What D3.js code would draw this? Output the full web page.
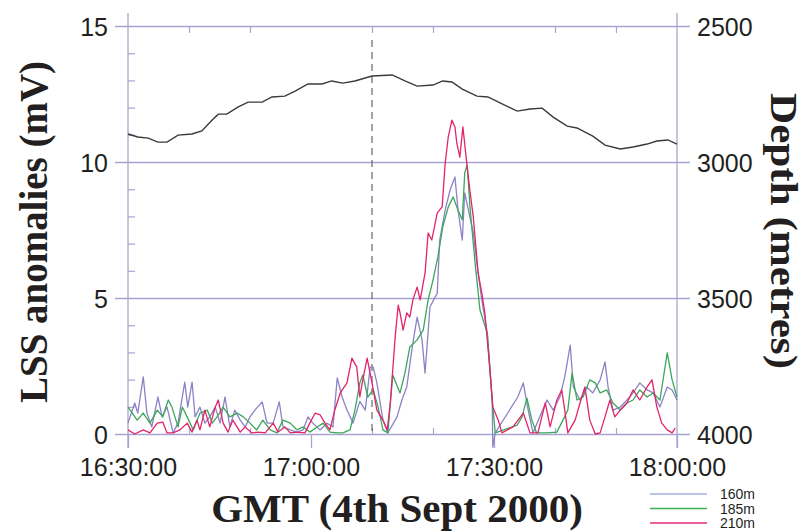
<!DOCTYPE html>
<html>
<head>
<meta charset="utf-8">
<script src="https://cdn.jsdelivr.net/npm/d3@7"></script>
<style>
body { margin: 0; background: #fff; }
svg { display: block; }
.tick-label text { font-family: "Liberation Sans", Arial, sans-serif; font-size: 25px; fill: #231f20; }
.title { font-family: "Liberation Serif", "Times New Roman", serif; font-weight: bold; fill: #231f20; }
.legend-label { font-family: "Liberation Sans", Arial, sans-serif; font-size: 14px; fill: #231f20; }
</style>
</head>
<body>
<div id="chart"></div>
<script>
// sample times are minutes after 16:30:00 GMT, LSS values in mV
const t160 = [0.0,1.1,1.6,2.5,3.1,3.9,4.9,5.6,6.4,7.4,8.2,9.3,9.8,10.5,11.0,11.8,12.6,13.4,14.3,15.1,15.9,16.7,17.5,18.4,19.2,20.0,20.8,22.0,22.8,23.8,24.8,25.4,26.6,27.7,28.7,29.5,30.3,31.5,32.6,33.6,34.3,35.1,35.9,36.9,38.0,38.9,39.7,40.2,40.8,41.8,42.6,44.1,44.9,45.7,46.6,47.4,48.2,48.7,49.5,50.7,51.1,52.0,52.8,53.6,54.1,54.8,55.2,55.7,56.6,57.4,58.0,58.9,59.7,59.8,60.2,63.9,64.8,65.6,66.4,67.5,68.7,69.7,70.8,71.6,72.5,73.0,74.1,75.2,76.2,77.4,78.2,78.7,79.5,80.7,81.8,82.8,83.9,85.1,86.1,87.2,88.4,89.2,90.0];
const v160 = [0.40,1.14,0.77,2.10,0.77,0.26,1.36,0.63,0.99,0.04,0.40,1.91,0.99,1.91,0.63,0.99,0.40,0.63,0.99,0.40,1.36,0.26,0.88,0.51,0.26,0.63,0.88,1.18,0.40,0.40,1.18,0.26,0.15,0.07,0.15,0.63,0.40,0.15,0.40,0.26,2.06,1.36,0.88,0.40,1.20,0.88,2.46,2.46,1.88,0.51,0.04,0.63,1.25,1.73,3.20,4.30,3.46,2.24,4.67,5.18,7.13,8.24,8.97,9.45,8.24,7.13,8.86,8.35,7.39,5.92,4.93,3.71,1.25,-0.48,0.04,1.36,1.88,0.88,0.04,0.63,1.25,0.88,1.36,2.10,3.27,1.73,1.25,1.73,1.51,1.99,2.65,1.73,0.88,0.99,1.25,1.51,1.88,1.62,1.51,0.99,1.73,1.62,1.25];

const t185 = [0.0,1.5,2.5,3.6,4.8,5.7,6.6,7.2,8.2,8.9,9.7,10.7,11.8,13.0,13.8,14.6,15.6,16.7,17.9,18.9,20.0,21.1,22.1,23.3,24.4,25.4,26.6,27.7,28.7,29.8,31.0,32.0,33.1,34.3,35.2,36.4,37.2,38.0,38.5,39.3,40.2,41.0,41.8,42.6,43.4,44.6,45.4,46.2,47.4,48.4,49.2,50.0,50.8,51.6,52.5,53.3,53.9,54.8,55.2,55.6,56.1,56.9,57.7,58.9,59.7,60.2,63.8,64.6,65.4,66.2,67.0,68.7,70.3,71.3,72.1,72.8,73.6,74.6,75.7,76.6,77.4,78.5,79.5,80.7,81.8,82.8,83.9,85.1,86.1,87.2,88.4,89.2,90.0];
const v185 = [0.99,0.51,0.77,0.40,0.88,0.63,1.25,0.99,0.26,0.99,0.63,0.15,0.77,0.88,0.40,0.63,0.99,0.63,0.77,0.63,0.40,0.15,0.51,0.15,0.04,0.51,0.40,0.15,0.26,0.07,0.26,0.40,0.07,0.04,0.04,0.15,0.88,1.88,2.17,1.36,1.62,0.99,0.15,0.04,2.17,1.51,2.24,3.20,3.46,3.82,4.93,5.66,6.51,7.61,8.35,8.71,8.35,7.87,9.60,9.89,8.24,6.29,4.56,3.71,1.25,0.04,0.33,0.63,1.32,0.51,0.04,0.04,0.07,0.51,0.88,2.24,1.25,1.36,1.99,1.88,1.51,1.62,1.14,0.88,1.14,1.25,1.62,1.36,1.51,1.25,2.98,1.99,1.36];

const t210 = [0.0,1.1,2.5,3.6,4.8,5.7,6.4,7.4,8.5,9.7,10.5,11.3,11.8,12.6,13.4,14.3,14.8,15.6,16.4,17.2,18.4,19.2,20.3,21.3,22.5,23.8,24.6,25.7,26.6,27.7,29.0,29.8,30.7,31.5,32.3,33.1,33.9,34.8,35.9,36.7,37.5,38.0,38.4,39.2,40.0,40.8,41.8,42.5,43.0,43.8,44.3,44.6,45.1,45.7,46.2,46.7,47.4,47.9,48.7,49.2,49.8,50.7,51.5,52.0,52.5,53.1,53.6,53.9,54.4,54.9,55.6,56.1,56.6,57.4,58.0,58.5,59.3,59.8,60.7,61.3,63.1,64.8,65.9,67.2,68.4,69.2,70.3,71.1,71.6,72.1,73.3,74.1,74.9,75.7,76.6,77.4,78.2,79.0,79.8,80.7,81.8,82.8,83.9,85.1,85.9,86.7,87.5,88.4,89.2,89.7];
const v210 = [0.15,0.00,0.15,0.04,0.40,0.44,0.04,0.04,0.15,0.40,0.07,0.51,0.15,0.88,0.26,0.99,1.25,0.40,0.07,0.51,0.07,0.26,0.04,0.07,0.04,0.40,0.07,0.26,0.04,0.07,0.04,0.40,0.77,0.70,0.40,0.15,0.88,1.51,1.88,2.79,2.46,1.36,1.88,2.79,1.88,0.88,0.51,0.15,1.14,3.57,4.74,4.45,3.82,4.45,4.30,4.93,5.40,4.93,5.92,7.39,7.13,8.13,8.35,9.96,10.92,11.54,11.29,10.70,10.18,11.29,9.82,8.86,7.98,5.92,5.18,4.45,2.46,0.99,0.51,0.04,0.26,0.77,0.04,0.04,1.14,0.26,1.25,1.62,0.88,0.04,0.51,1.14,1.73,0.51,0.00,0.04,0.63,1.25,0.63,0.88,1.14,1.62,1.25,1.73,1.99,0.99,0.40,0.15,0.04,0.22];

// depth of the instrument (metres)
const depthTime = [0.0,1.6,3.3,4.9,6.4,8.2,10.5,12.1,13.8,14.8,16.2,18.0,19.7,22.0,23.6,25.7,27.4,29.5,31.8,33.4,35.2,37.2,40.0,43.3,45.4,47.4,50.0,51.6,53.1,54.8,57.2,59.0,61.0,63.8,65.9,67.9,69.7,72.0,73.6,76.2,78.2,80.7,82.8,85.1,86.7,88.5,90.0];
const depthValues = [2897,2908,2912,2927,2927,2901,2897,2886,2846,2824,2824,2798,2780,2780,2761,2758,2739,2713,2713,2702,2710,2702,2684,2680,2702,2721,2717,2702,2706,2732,2758,2761,2783,2813,2805,2802,2835,2868,2875,2905,2938,2952,2945,2934,2923,2919,2934];

const lssTicks = [0, 5, 10, 15];
const lssMinorTicks = [1, 2, 3, 4, 6, 7, 8, 9, 11, 12, 13, 14];
const depthTicks = [4000, 3500, 3000, 2500];
const timeTicks = ['16:30:00', '17:00:00', '17:30:00', '18:00:00'];
const timeMinorTicks = ['16:40:00', '16:50:00', '17:10:00', '17:20:00', '17:40:00', '17:50:00'];
const markerTime = '17:10:00';
const seriesNames = ['160m', '185m', '210m'];

const seriesColors = ['#8c82c6', '#3aa75a', '#e2246c'];
const legendColors = ['#9fb1de', '#3fb04f', '#e52a7c'];
const axisColor = '#a9a4d0';

const width = 806, height = 531;
const margin = {top: 26, right: 129, bottom: 97, left: 128};

const parseTime = d3.utcParse('%H:%M:%S');
const startTime = parseTime(timeTicks[0]);
const toDate = m => new Date(startTime.getTime() + m * 60000);

const svg = d3.select('#chart').append('svg')
	.attr('width', width)
	.attr('height', height);

const x = d3.scaleTime()
	.domain([parseTime(timeTicks[0]), parseTime(timeTicks[timeTicks.length - 1])])
	.range([margin.left, width - margin.right]);
const y = d3.scaleLinear()
	.domain([0, 15])
	.range([height - margin.bottom, margin.top]);
const yDepth = d3.scaleLinear()
	.domain([4000, 2500])
	.range([height - margin.bottom, margin.top]);

const x0 = x.range()[0], x1 = x.range()[1];
const yBottom = y(0), yTop = y(15);

// horizontal grid lines (reach past both axes)
const grid = svg.append('g')
	.attr('transform', `translate(${x0 - 13},0)`)
	.call(d3.axisRight(y).tickValues(lssTicks).tickSize(x1 - x0 + 26).tickFormat(''));
grid.select('.domain').remove();
grid.selectAll('line').attr('stroke', axisColor).attr('stroke-width', 1.3);

// vertical axis lines
[x0, x1].forEach(xp => {
	svg.append('line')
		.attr('x1', xp).attr('x2', xp)
		.attr('y1', yTop - 13).attr('y2', yBottom + 14)
		.attr('stroke', axisColor).attr('stroke-width', 1.3);
});

// left minor ticks, pointing in
const leftMinor = svg.append('g')
	.attr('transform', `translate(${x0},0)`)
	.call(d3.axisLeft(y).tickValues(lssMinorTicks).tickSize(-7).tickFormat(''));
leftMinor.select('.domain').remove();
leftMinor.selectAll('line').attr('stroke', axisColor).attr('stroke-width', 1.2);

// left labels
const leftLabels = svg.append('g')
	.attr('class', 'tick-label')
	.attr('transform', `translate(${x0},0)`)
	.call(d3.axisLeft(y).tickValues(lssTicks).tickSize(0).tickPadding(20));
leftLabels.select('.domain').remove();
leftLabels.selectAll('text').attr('font-size', null).attr('font-family', null).attr('dy', '0.36em');

// right labels (depth)
const rightLabels = svg.append('g')
	.attr('class', 'tick-label')
	.attr('transform', `translate(${x1},0)`)
	.call(d3.axisRight(yDepth).tickValues(depthTicks).tickSize(0).tickPadding(20).tickFormat(d3.format('d')));
rightLabels.select('.domain').remove();
rightLabels.selectAll('text').attr('font-size', null).attr('font-family', null).attr('dy', '0.36em');

// bottom axis
const bottomAxis = svg.append('g')
	.attr('class', 'tick-label')
	.attr('transform', `translate(0,${yBottom})`)
	.call(d3.axisBottom(x).tickValues(timeTicks.map(parseTime)).tickSize(14).tickPadding(10).tickFormat(d3.utcFormat('%H:%M:%S')));
bottomAxis.select('.domain').remove();
bottomAxis.selectAll('line').attr('stroke', axisColor).attr('stroke-width', 1.3);
bottomAxis.selectAll('text').attr('font-size', null).attr('font-family', null);

// minor time ticks, top and bottom, pointing in
const topMinor = svg.append('g')
	.attr('transform', `translate(0,${yTop})`)
	.call(d3.axisTop(x).tickValues(timeMinorTicks.map(parseTime)).tickSize(-7).tickFormat(''));
topMinor.select('.domain').remove();
topMinor.selectAll('line').attr('stroke', axisColor).attr('stroke-width', 1.2);

const bottomMinor = svg.append('g')
	.attr('transform', `translate(0,${yBottom})`)
	.call(d3.axisBottom(x).tickValues(timeMinorTicks.map(parseTime)).tickSize(-6).tickFormat(''));
bottomMinor.select('.domain').remove();
bottomMinor.selectAll('line').attr('stroke', axisColor).attr('stroke-width', 1.2);

// dashed marker
svg.append('line')
	.attr('x1', x(parseTime(markerTime))).attr('x2', x(parseTime(markerTime)))
	.attr('y1', yTop + 14).attr('y2', yBottom)
	.attr('stroke', '#5a5a5a')
	.attr('stroke-width', 1.1)
	.attr('stroke-dasharray', '7,5');

// depth line
const depthLine = d3.line()
	.x((d, i) => x(toDate(depthTime[i])))
	.y(d => yDepth(d));
svg.append('path')
	.datum(depthValues)
	.attr('d', depthLine)
	.attr('fill', 'none')
	.attr('stroke', '#3a3a3a')
	.attr('stroke-width', 1.4);

// LSS series
const series = [
	{times: t160, values: v160},
	{times: t185, values: v185},
	{times: t210, values: v210}
];
series.forEach((s, k) => {
	const line = d3.line()
		.x((d, i) => x(toDate(s.times[i])))
		.y(d => y(d));
	svg.append('path')
		.datum(s.values)
		.attr('d', line)
		.attr('fill', 'none')
		.attr('stroke', seriesColors[k])
		.attr('stroke-width', 1.3)
		.attr('stroke-linejoin', 'round');
});

// titles
svg.append('text')
	.attr('class', 'title')
	.attr('transform', 'translate(47,232) rotate(-90)')
	.attr('text-anchor', 'middle')
	.attr('font-size', 39)
	.attr('textLength', 342)
	.attr('lengthAdjust', 'spacingAndGlyphs')
	.text('LSS anomalies (mV)');

svg.append('text')
	.attr('class', 'title')
	.attr('transform', 'translate(771,231) rotate(90)')
	.attr('text-anchor', 'middle')
	.attr('font-size', 37)
	.attr('textLength', 276)
	.attr('lengthAdjust', 'spacingAndGlyphs')
	.text('Depth (metres)');

svg.append('text')
	.attr('class', 'title')
	.attr('x', 397)
	.attr('y', 522)
	.attr('text-anchor', 'middle')
	.attr('font-size', 41)
	.text('GMT (4th Sept 2000)');

// legend
const legend = svg.append('g').attr('transform', 'translate(650,494)');
seriesNames.forEach((name, k) => {
	const row = legend.append('g').attr('transform', `translate(0,${k * 14.5})`);
	row.append('line')
		.attr('x1', 0).attr('x2', 57)
		.attr('stroke', legendColors[k])
		.attr('stroke-width', 1.6);
	row.append('text')
		.attr('class', 'legend-label')
		.attr('x', 70)
		.attr('dy', '0.36em')
		.text(name);
});
</script>
</body>
</html>
